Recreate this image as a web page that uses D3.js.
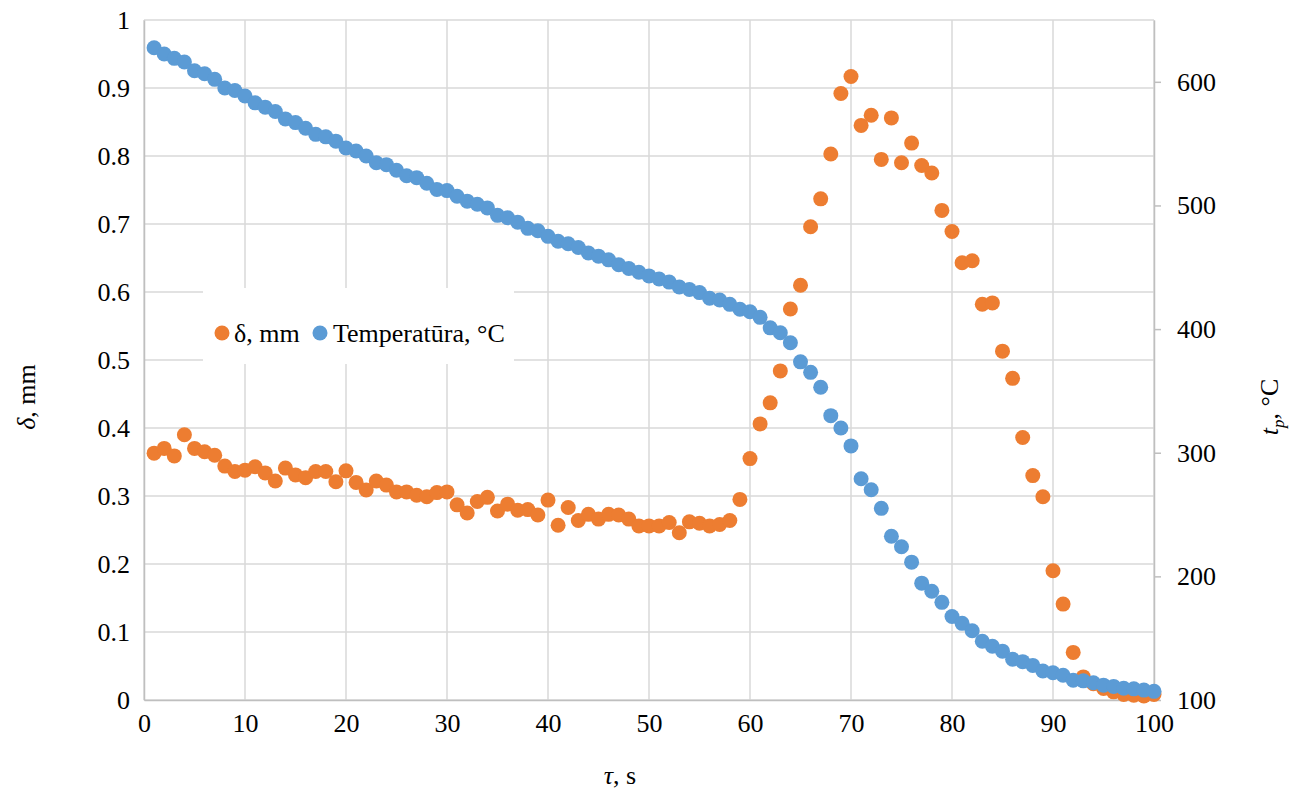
<!DOCTYPE html>
<html>
<head>
<meta charset="utf-8">
<script src="https://cdn.jsdelivr.net/npm/d3@7"></script>
<style>
  html, body { margin: 0; padding: 0; background: #fff; }
  svg { display: block; font-family: "Liberation Serif", "Times New Roman", serif; }
</style>
</head>
<body>
<svg id="chart" width="1304" height="794"></svg>
<script>
// Time, s
const tau = [1,2,3,4,5,6,7,8,9,10,11,12,13,14,15,16,17,18,19,20,
  21,22,23,24,25,26,27,28,29,30,31,32,33,34,35,36,37,38,39,40,
  41,42,43,44,45,46,47,48,49,50,51,52,53,54,55,56,57,58,59,60,
  61,62,63,64,65,66,67,68,69,70,71,72,73,74,75,76,77,78,79,80,
  81,82,83,84,85,86,87,88,89,90,91,92,93,94,95,96,97,98,99,100];

// Deflection δ, mm (left axis)
const delta = [0.363,0.370,0.359,0.390,0.370,0.365,0.360,0.344,0.336,0.338,
  0.343,0.334,0.322,0.341,0.331,0.327,0.336,0.336,0.321,0.337,
  0.320,0.309,0.322,0.316,0.306,0.306,0.301,0.299,0.305,0.306,
  0.287,0.275,0.292,0.298,0.278,0.288,0.279,0.280,0.272,0.294,
  0.257,0.283,0.264,0.273,0.266,0.273,0.272,0.266,0.256,0.256,
  0.256,0.261,0.246,0.262,0.260,0.256,0.258,0.264,0.295,0.355,
  0.406,0.437,0.484,0.575,0.610,0.696,0.737,0.803,0.892,0.917,
  0.845,0.860,0.795,0.856,0.790,0.819,0.786,0.775,0.720,0.689,
  0.643,0.646,0.582,0.584,0.513,0.473,0.386,0.330,0.299,0.190,
  0.141,0.070,0.034,0.024,0.017,0.012,0.008,0.007,0.006,0.008];

// Temperature t_p, °C (right axis)
const temperature = [627.5,622.5,619,616,609,606.5,602,595,593,588.5,
  583,579.5,576,570,567,562.5,557.5,555.5,552,546.5,
  544,540,534.5,533,528.5,524,522.5,518,513,512,
  507.5,503.5,501,498,492,490,486.5,481.5,479.5,475,
  471,469,466,461.5,459,456,452,449,446,443,
  440.5,438,434,432,429.5,425,423.5,420,416,414,
  409.5,401,397,389,373.5,365,353,330,320,305.5,
  279,270,255,232.5,224,211.5,194.5,188,179,167.5,
  162,156,147.5,143.5,139.5,133,131,128,123.5,122,
  120,116,115.5,114,112,111,109.5,109,108,107];

const xTicks = [0,10,20,30,40,50,60,70,80,90,100];
const leftTicks = [0,0.1,0.2,0.3,0.4,0.5,0.6,0.7,0.8,0.9,1];
const rightTicks = [100,200,300,400,500,600];
const seriesNames = ["δ, mm", "Temperatūra, °C"];
const colors = { delta: "#ED7D31", temp: "#5B9BD5" };

const plot = { left: 144, right: 1154, top: 20, bottom: 700 };
const fontSize = 26;

const svg = d3.select("#chart");

const x = d3.scaleLinear().domain([0, 100]).range([plot.left, plot.right]);
const yL = d3.scaleLinear().domain([0, 1]).range([plot.bottom, plot.top]);
const yR = d3.scaleLinear().domain([100, 650]).range([plot.bottom, plot.top]);

// Gridlines
const grid = svg.append("g").attr("stroke", "#D9D9D9").attr("stroke-width", 1.5);
grid.selectAll("line.h").data(leftTicks).join("line")
  .attr("x1", plot.left).attr("x2", plot.right)
  .attr("y1", d => yL(d)).attr("y2", d => yL(d));
grid.selectAll("line.v").data(xTicks).join("line")
  .attr("y1", plot.top).attr("y2", plot.bottom)
  .attr("x1", d => x(d)).attr("x2", d => x(d));

// Bottom axis
const xAxis = svg.append("g")
  .attr("transform", `translate(0,${plot.bottom})`)
  .call(d3.axisBottom(x).tickValues(xTicks).tickSize(0).tickPadding(14).tickFormat(d3.format("d")));
xAxis.select(".domain").attr("stroke", "#BFBFBF").attr("stroke-width", 1.5);
xAxis.selectAll("text").attr("font-size", fontSize).attr("fill", "#000")
  .attr("font-family", "Liberation Serif");

// Left axis
const leftAxis = svg.append("g")
  .attr("transform", `translate(${plot.left},0)`)
  .call(d3.axisLeft(yL).tickValues(leftTicks).tickSize(0).tickPadding(14)
    .tickFormat(d => (d === 0 || d === 1) ? String(d) : d3.format(".1f")(d)));
leftAxis.select(".domain").attr("stroke", "#BFBFBF").attr("stroke-width", 1.5);
leftAxis.selectAll("text").attr("font-size", fontSize).attr("fill", "#000")
  .attr("font-family", "Liberation Serif");

// Right axis
const rightAxis = svg.append("g")
  .attr("transform", `translate(${plot.right},0)`)
  .call(d3.axisRight(yR).tickValues(rightTicks).tickSize(7).tickSizeOuter(0).tickPadding(16).tickFormat(d3.format("d")));
rightAxis.select(".domain").attr("stroke", "#BFBFBF").attr("stroke-width", 1.5);
rightAxis.selectAll("line").attr("stroke", "#BFBFBF").attr("stroke-width", 1.5);
rightAxis.selectAll("text").attr("font-size", fontSize).attr("fill", "#000")
  .attr("font-family", "Liberation Serif");

// δ series
svg.append("g").selectAll("circle").data(tau).join("circle")
  .attr("cx", (d, i) => x(d))
  .attr("cy", (d, i) => yL(delta[i]))
  .attr("r", 7.5)
  .attr("fill", colors.delta);

// Temperature series
svg.append("g").selectAll("circle").data(tau).join("circle")
  .attr("cx", (d, i) => x(d))
  .attr("cy", (d, i) => yR(temperature[i]))
  .attr("r", 7.5)
  .attr("fill", colors.temp);

// Legend
const legend = svg.append("g");
legend.append("rect").attr("x", 203).attr("y", 288).attr("width", 311).attr("height", 76).attr("fill", "#fff");
legend.append("circle").attr("cx", 222).attr("cy", 333).attr("r", 7.5).attr("fill", colors.delta);
legend.append("text").attr("x", 234).attr("y", 342).attr("font-size", fontSize).text(seriesNames[0]);
legend.append("circle").attr("cx", 320).attr("cy", 333).attr("r", 7.5).attr("fill", colors.temp);
legend.append("text").attr("x", 333).attr("y", 342).attr("font-size", fontSize).text(seriesNames[1]);

// Axis titles
const xt = svg.append("text").attr("x", 620).attr("y", 784).attr("text-anchor", "middle").attr("font-size", fontSize);
xt.append("tspan").attr("font-style", "italic").text("τ");
xt.append("tspan").text(", s");

const ylt = svg.append("text").attr("transform", "translate(35,397) rotate(-90)")
  .attr("text-anchor", "middle").attr("font-size", fontSize);
ylt.append("tspan").attr("font-style", "italic").text("δ");
ylt.append("tspan").text(", mm");

const yrt = svg.append("text").attr("transform", "translate(1278,407) rotate(-90)")
  .attr("text-anchor", "middle").attr("font-size", fontSize);
yrt.append("tspan").attr("font-style", "italic").text("t");
yrt.append("tspan").attr("font-style", "italic").attr("font-size", 17).attr("dy", 6).text("p");
yrt.append("tspan").attr("dy", -6).text(", °C");
</script>
</body>
</html>
